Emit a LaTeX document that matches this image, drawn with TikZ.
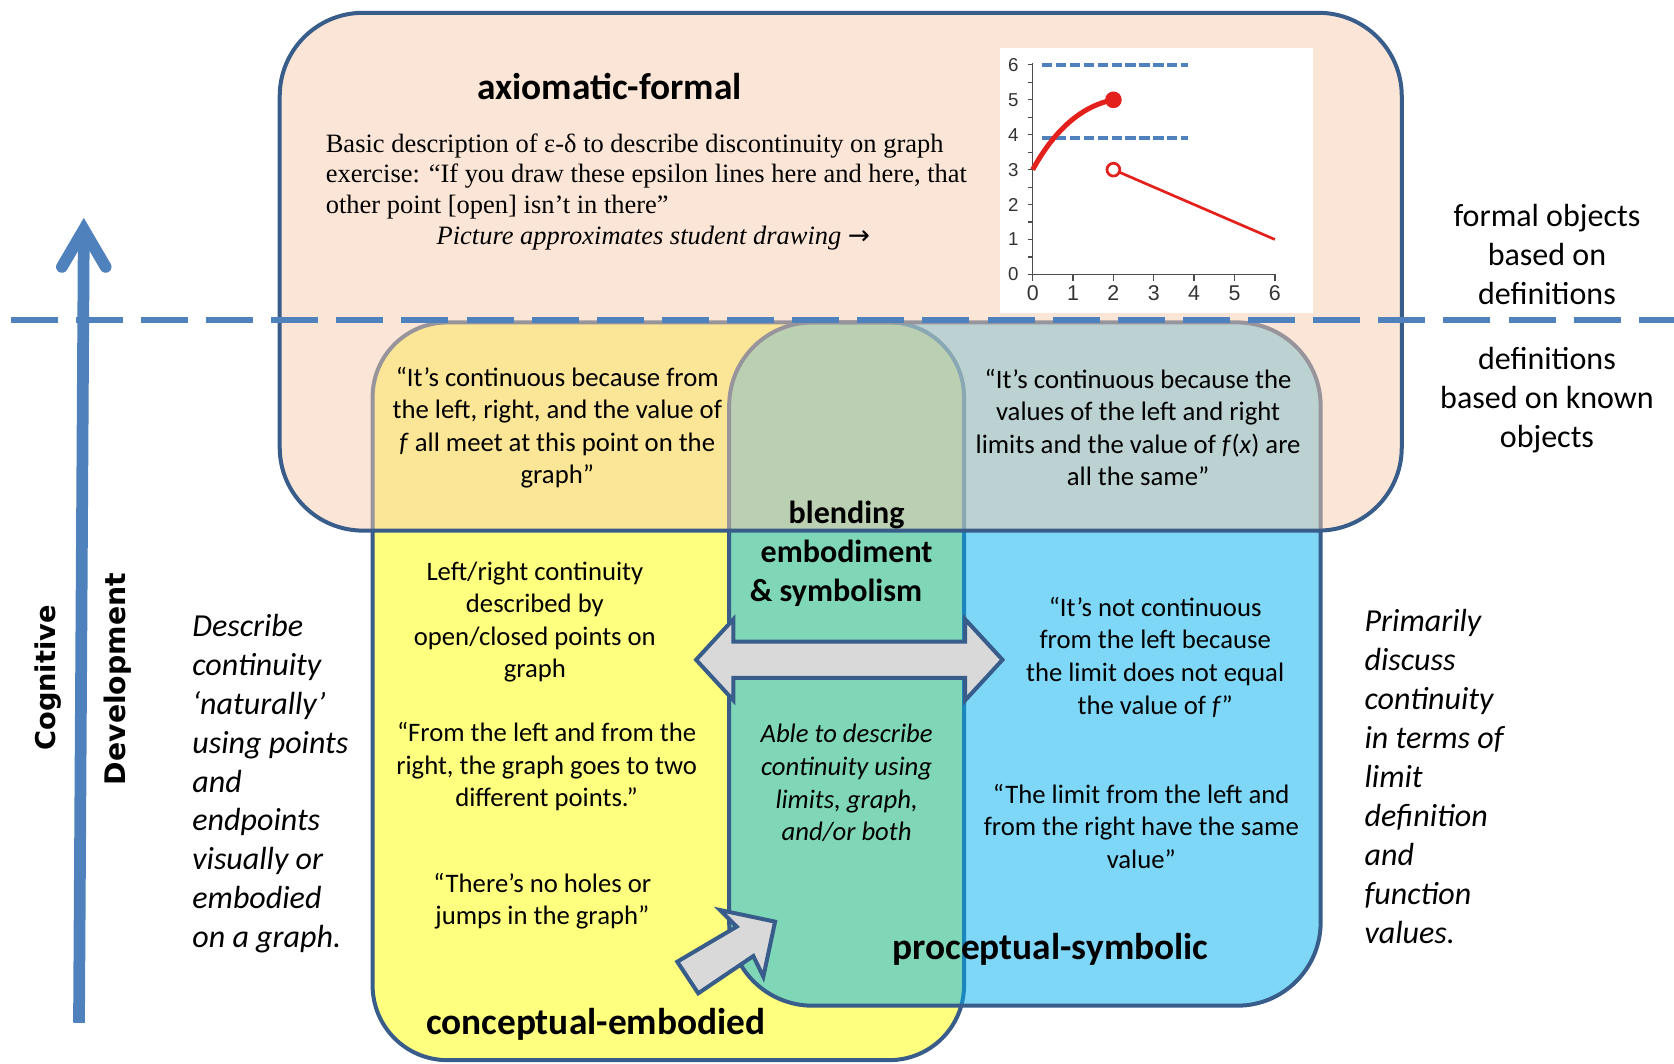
\documentclass[tikz,border=0pt]{standalone}
\usepackage{fontspec}
\setmainfont{Carlito}
\newfontfamily\timesfont{Liberation Serif}
\newfontfamily\verdfont{DejaVu Sans}
\newfontfamily\tickfont{Liberation Sans}
\definecolor{peach}{HTML}{F8CBAD}
\definecolor{lemon}{HTML}{FFFF00}
\definecolor{sky}{HTML}{00B0F0}
\definecolor{rim}{HTML}{385D8A}
\definecolor{dashblue}{HTML}{4F81BD}
\definecolor{arrowgrey}{HTML}{D9D9D9}
\definecolor{plotred}{HTML}{E3201B}
\newcommand\bodysize{\fontsize{25}{30.5}\selectfont}
\newcommand\headsize{\fontsize{30}{36.5}\selectfont}
\newcommand\worldsize{\fontsize{35}{40}\selectfont}
\begin{document}
\begin{tikzpicture}[x=1pt, y=-1pt,
  world/.style={draw=rim, line width=3.75pt, rounded corners=#1},
  quote/.style={font=\bodysize, align=center, inner sep=0pt},
  title/.style={font=\worldsize\bfseries, inner sep=0pt},
  side/.style={font=\headsize\itshape, align=left, inner sep=0pt, anchor=west},
  blockarrow/.style={draw=rim, fill=arrowgrey, line width=3.75pt, line join=miter}]
  \useasboundingbox (0,0) rectangle (1568,996);
  % the three worlds
  \path[world=70, fill=lemon, fill opacity=0.5] (349,302) rectangle (903,993);
  \path[world=78, fill=sky, fill opacity=0.5] (683,302) rectangle (1237,942);
  \draw[blockarrow] (652,618) -- (687,580) -- (687,601) -- (904,601) -- (904,580)
    -- (939,618) -- (904,656) -- (904,635) -- (687,635) -- (687,656) -- cycle;
  \draw[blockarrow] (634.4,900.8) -- (690,868) -- (674.4,852.4) -- (726,863.3)
    -- (715,914.8) -- (705.6,895.5) -- (654,930.4) -- cycle;
  \path[world=78, fill=peach, fill opacity=0.5] (262,12) rectangle (1313,497);
  \draw[dashblue, line width=5.5pt, dash pattern=on 44pt off 17pt] (10,300) -- (1568,300);
  % student drawing
  \fill[white] (936.7,45) rectangle (1230,293);
  \begin{scope}[shift={(967.3,257)}, x=37.8pt, y=32.7pt]
    \draw[black!70, line width=1.3pt] (0,6.05) -- (0,0) -- (6,0);
    \foreach \k in {0,...,6}
      \draw[black!70, line width=1.3pt] (\k,0) -- (\k,-0.18)
        node[below=4pt, font=\tickfont\fontsize{20}{20}\selectfont, text=black!80, inner sep=0pt] {\k};
    \foreach \k in {0,0.5,...,6}
      \draw[black!70, line width=1.1pt] (0,\k) -- (-0.12,\k);
    \foreach \k in {0,...,6}
      \node[left=13pt, font=\tickfont\fontsize{17.5}{17.5}\selectfont, text=black!80, inner sep=0pt] at (0,\k) {\k};
    \draw[dashblue, line width=4pt, dash pattern=on 9.4pt off 3.7pt] (0.22,6) -- (3.85,6) (0.22,3.91) -- (3.85,3.91);
    \draw[plotred, line width=4.7pt] (0,3) .. controls (0.45,3.95) and (1.1,4.8) .. (2,5);
    \fill[plotred] (2,5) circle (7.8pt);
    \draw[plotred, line width=2.5pt] (2,3) circle (6pt);
    \draw[plotred, line width=2.5pt] (2,3) ++(-23.4:6pt) -- (6,1);
  \end{scope}
  % axiomatic-formal
  \node[title] (axiom) at (571,81) {axiomatic-formal};
  \node[font=\timesfont\fontsize{24.8}{28.6}\selectfont, align=left, anchor=west, inner sep=0pt] (basic) at (305,165)
    {Basic description of ε-δ to describe discontinuity on graph\\
     exercise: “If you draw these epsilon lines here and here, that\\
     other point [open] isn’t in there”};
  \node[font=\timesfont\itshape\fontsize{24.8}{28.6}\selectfont, inner sep=0pt] (drawing) at (612,223)
    {Picture approximates student drawing {\upshape\verdfont →}};
  \node[quote] (yq) at (522,400.5) {“It’s continuous because from\\the left, right, and the value of\\\textit{f} all meet at this point on the\\graph”};
  \node[quote] (bq) at (1066,400.5) {“It’s continuous because the\\values of the left and right\\limits and the value of \textit{f}(\textit{x}) are\\all the same”};
  % blending
  \node[font=\headsize\bfseries, inner sep=0pt, align=center] (blend) at (793,519) {blending\\embodiment\\\& symbolism\hspace*{20pt}};
  \node[quote, font=\bodysize\itshape] (able) at (793,733.5) {Able to describe\\continuity using\\limits, graph,\\and/or both};
  % conceptual-embodied
  \node[quote] (leftright) at (501,582.5) {Left/right continuity\\described by\\open/closed points on\\graph};
  \node[quote] (twopts) at (512,718) {“From the left and from the\\right, the graph goes to two\\different points.”};
  \node[quote] (holes) at (508,844) {“There’s no holes or\\jumps in the graph”};
  \node[title] (concept) at (558,959) {conceptual-embodied};
  % proceptual-symbolic
  \node[quote] (notcont) at (1082,615.5) {“It’s not continuous\\from the left because\\the limit does not equal\\the value of \textit{f}”};
  \node[quote] (samelim) at (1069,774) {“The limit from the left and\\from the right have the same\\value”};
  \node[title] (procept) at (984,889) {proceptual-symbolic};
  % right side
  \node[font=\headsize, align=center, inner sep=0pt] (formobj) at (1449,238) {formal objects\\based on\\definitions};
  \node[font=\headsize, align=center, inner sep=0pt] (defobj) at (1449,375) {definitions\\based on known\\objects};
  \node[side] (primarily) at (1278,727.5) {Primarily\\discuss\\continuity\\in terms of\\limit\\definition\\and\\function\\values.};
  % left side
  \node[side] (describe) at (180,734) {Describe\\continuity\\‘naturally’\\using points\\and\\endpoints\\visually or\\embodied\\on a graph.};
  \node[font=\verdfont\bfseries\fontsize{25.5}{25.5}\selectfont, rotate=90, inner sep=0pt] (cog) at (45,635) {Cognitive};
  \node[font=\verdfont\bfseries\fontsize{26.5}{26.5}\selectfont, rotate=90, inner sep=0pt] (dev) at (110,636) {Development};
  \coordinate (growbot) at (74,958);
  \coordinate (growtop) at (78.5,215);
  \draw[dashblue, line width=11pt] (growbot) -- (growtop);
  \draw[dashblue, line width=11pt, line cap=round, line join=miter] (58,250) -- (growtop) -- (99,250);
\end{tikzpicture}
\end{document}
